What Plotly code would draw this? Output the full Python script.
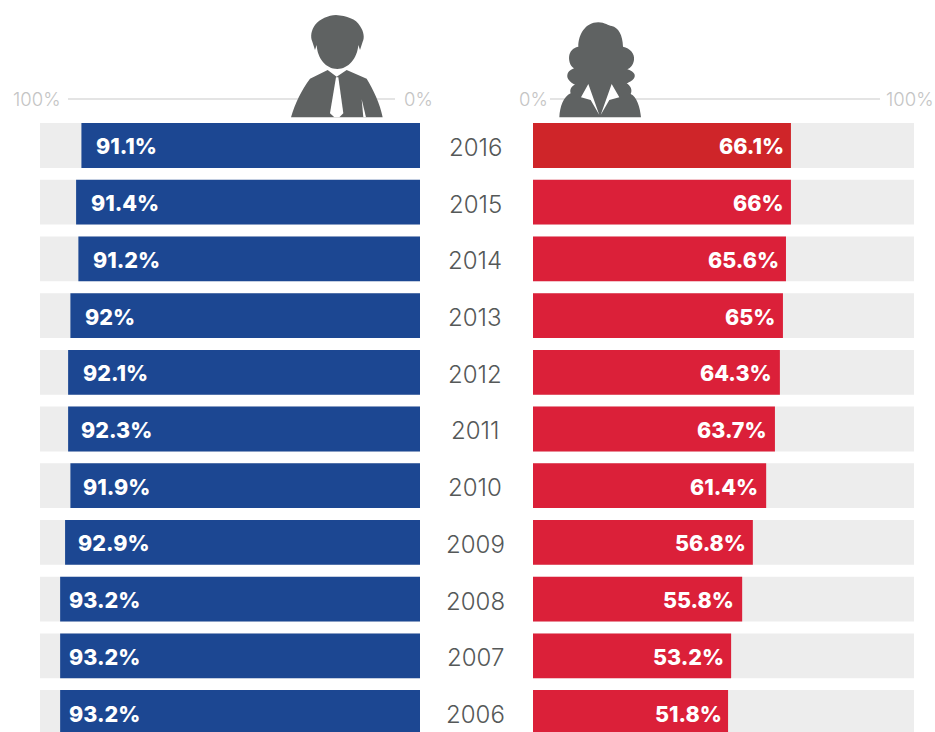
import plotly.graph_objects as go

years = ["2016", "2015", "2014", "2013", "2012", "2011", "2010", "2009", "2008", "2007", "2006"]
male_labels = ["91.1%", "91.4%", "91.2%", "92%", "92.1%", "92.3%", "91.9%", "92.9%", "93.2%", "93.2%", "93.2%"]
female_labels = ["66.1%", "66%", "65.6%", "65%", "64.3%", "63.7%", "61.4%", "56.8%", "55.8%", "53.2%", "51.8%"]
# Bar lengths as drawn in the picture (they differ a little from the printed labels)
male_drawn = [89.1, 90.5, 89.9, 92.0, 92.6, 92.6, 92.0, 93.4, 94.7, 94.7, 94.7]
female_drawn = [67.7, 67.7, 66.4, 65.6, 64.8, 63.5, 61.2, 57.7, 54.9, 52.0, 51.2]
full_scale = [100] * len(years)

W, H = 935, 732
BLUE, RED, RED_TOP, TRACK, ICON, YEAR, SCALE, RULE = (
    "#1c4792", "#db2039", "#cf2529", "#ededed", "#5f6262", "#555858", "#c4c4c4", "#e4e4e4")
LABEL_FONT = dict(family="Inter", size=21.5, color="white", weight=800)
MALE_PAD = [13, 13, 13, 13, 13, 11, 11, 11, 7, 7, 7]
FEMALE_PAD = [5, 5, 5, 6, 6, 6, 6, 5, 6, 5, 4]


def px_path(d):
    """Path given in 3x reference pixels -> paper coordinates."""
    out = []
    for tok in d.split():
        if "," in tok:
            a, b = tok.split(",")
            out.append(f"{float(a) / 3 / W:.5f},{1 - float(b) / 3 / H:.5f}")
        else:
            out.append(tok)
    return " ".join(out)


def icon(d, color):
    return dict(type="path", xref="paper", yref="paper", path=px_path(d),
                fillcolor=color, line=dict(width=0), layer="above")


man_hair = ("M 1008,45 C 1040,48 1068,56 1080,78 C 1092,95 1094,115 1088,125 L 1080,150 L 1075,135 "
            "C 1072,175 1045,207 1012,207 C 978,207 952,175 950,135 L 945,150 L 937,125 "
            "C 930,110 934,90 945,75 C 960,56 985,46 1008,45 Z")
man_body = ("M 983,210 L 1010,230 L 1040,210 L 1100,236 C 1120,270 1140,310 1148,352 L 873,352 "
            "C 885,310 905,270 930,236 Z")
man_tie = "M 1008,232 L 1015,232 L 1030,340 L 1018,352 L 1003,352 L 990,340 Z"
man_arm = "M 1085,298 L 1098,352 L 1090,352 Z"
woman_hair = ("M 385,67 C 405,67 415,78 425,78 C 445,82 458,105 459,140 C 480,145 495,160 492,180 "
              "C 490,195 480,205 472,208 C 485,212 497,220 494,230 C 490,242 478,246 470,250 "
              "C 482,258 488,270 482,282 C 500,290 510,320 513,352 L 268,352 C 270,320 280,290 302,280 "
              "C 298,268 305,258 315,254 C 300,248 290,235 292,225 C 294,213 305,208 312,205 "
              "C 300,198 295,180 298,165 C 302,148 315,142 325,140 C 325,105 345,67 385,67 Z")
woman_lapel_l = "M 355,252 L 333,292 L 362,300 L 388,345 Z"
woman_lapel_r = "M 425,252 L 448,292 L 418,300 L 392,345 Z"


def shift(d, dx):
    out = []
    for tok in d.split():
        if "," in tok:
            a, b = tok.split(",")
            out.append(f"{float(a) + dx},{b}")
        else:
            out.append(tok)
    return " ".join(out)


fig = go.Figure()
fig.add_bar(y=years, x=full_scale, orientation="h", xaxis="x", yaxis="y",
            marker=dict(color=TRACK, line_width=0), width=0.79, hoverinfo="skip")
fig.add_bar(y=years, x=male_drawn, orientation="h", xaxis="x", yaxis="y",
            marker=dict(color=BLUE, line_width=0), width=0.79, customdata=male_labels,
            hovertemplate="%{y}: %{customdata}<extra>Men</extra>")
fig.add_bar(y=years, x=full_scale, orientation="h", xaxis="x2", yaxis="y",
            marker=dict(color=TRACK, line_width=0), width=0.79, hoverinfo="skip")
fig.add_bar(y=years, x=female_drawn, orientation="h", xaxis="x2", yaxis="y",
            marker=dict(color=[RED_TOP] + [RED] * (len(years) - 1), line_width=0), width=0.79,
            customdata=female_labels, hovertemplate="%{y}: %{customdata}<extra>Women</extra>")

annotations = []
for i, (v, t) in enumerate(zip(male_drawn, male_labels)):
    annotations.append(dict(xref="x", yref="y", x=v, y=i, text=t, showarrow=False, xanchor="left",
                            yanchor="middle", xshift=MALE_PAD[i], yshift=-1, font=LABEL_FONT))
for i, (v, t) in enumerate(zip(female_drawn, female_labels)):
    annotations.append(dict(xref="x2", yref="y", x=v, y=i, text=t, showarrow=False, xanchor="right",
                            yanchor="middle", xshift=-FEMALE_PAD[i], yshift=-1, font=LABEL_FONT))
for i, y in enumerate(years):
    annotations.append(dict(xref="paper", yref="y", x=475 / W, y=i, text=y, showarrow=False, yshift=-2,
                            xanchor="center", yanchor="middle",
                            font=dict(family="Inter", size=24, color=YEAR, weight=300)))
for x, t in ((36 / W, "100%"), (418 / W, "0%"), (533 / W, "0%"), (909 / W, "100%")):
    annotations.append(dict(xref="paper", yref="paper", x=x, y=1 - 99 / H, text=t, showarrow=False,
                            xanchor="center", yanchor="middle",
                            font=dict(family="Inter", size=18.5, color=SCALE, weight=300)))

shapes = [
    dict(type="line", xref="paper", yref="paper", x0=68 / W, x1=395 / W, y0=1 - 99 / H, y1=1 - 99 / H,
         line=dict(color=RULE, width=2), layer="below"),
    dict(type="line", xref="paper", yref="paper", x0=550 / W, x1=880 / W, y0=1 - 99 / H, y1=1 - 99 / H,
         line=dict(color=RULE, width=2), layer="below"),
    icon(man_hair, ICON), icon(man_body, ICON), icon(man_tie, "white"), icon(man_arm, "white"),
    icon(shift(woman_hair, 1410), ICON), icon(shift(woman_lapel_l, 1410), "white"),
    icon(shift(woman_lapel_r, 1410), "white"),
]

fig.update_layout(
    width=W, height=H, margin=dict(l=0, r=0, t=0, b=0), autosize=False,
    paper_bgcolor="white", plot_bgcolor="white", barmode="overlay", showlegend=False,
    xaxis=dict(domain=[40 / W, 420 / W], range=[100, 0], visible=False, fixedrange=True),
    xaxis2=dict(domain=[533 / W, 914 / W], range=[0, 100], visible=False, fixedrange=True),
    yaxis=dict(type="category", categoryorder="array", categoryarray=years, range=[10.344, -2.566],
               domain=[0, 1], visible=False, fixedrange=True),
    annotations=annotations, shapes=shapes,
)
fig.write_html("out.html", config=dict(displayModeBar=False),
               post_script="document.body.style.margin='0';document.body.style.overflow='hidden';")
